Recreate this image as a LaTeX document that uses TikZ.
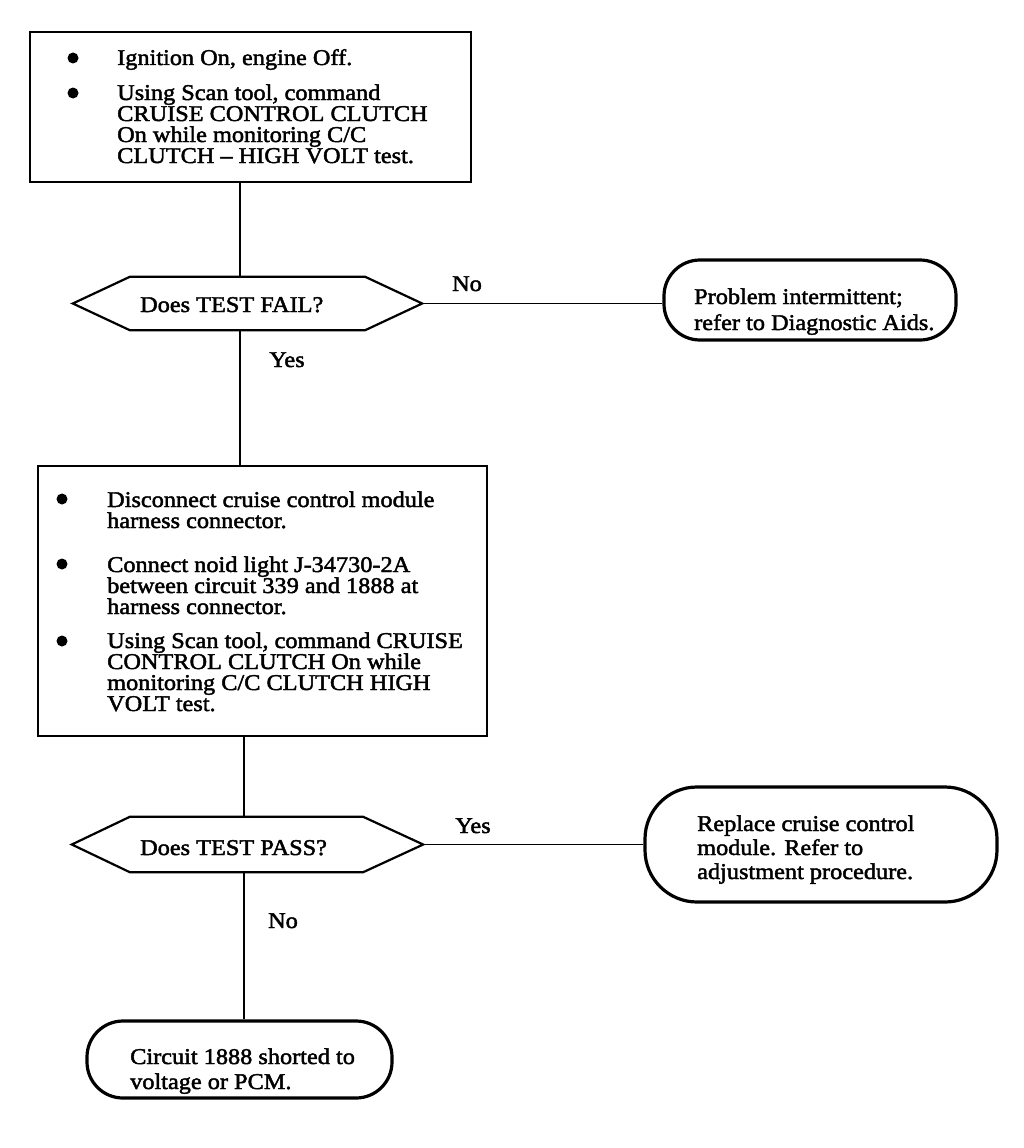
\documentclass[tikz,border=0pt]{standalone}
\usepackage{fontspec}
\setmainfont{Liberation Serif}[FakeBold=2, FakeStretch=1.08]
\newcommand{\para}[1]{\parbox[t]{420pt}{\raggedright\baselineskip=21pt #1\par}}
\begin{document}
\begin{tikzpicture}[x=1pt,y=-1pt,
  font=\fontsize{22.5}{21}\selectfont,
  boxshape/.style={draw, line width=2.2pt, inner sep=0pt},
  hexbase/.style={draw=none, inner sep=0pt},
  hexline/.style={line width=2.2pt, line join=miter},
  term/.style={draw, line width=3.2pt, inner sep=0pt},
  txt/.style={anchor=base west, inner sep=0pt},
  lbl/.style={anchor=base, inner sep=0pt},
  bul/.style={circle, fill, inner sep=0pt, minimum size=11pt},
  conn/.style={line width=1.8pt}]
\useasboundingbox (0,0) rectangle (1024,1148);

% ---- shapes ----
\node[boxshape, minimum width=441pt, minimum height=150pt] (b1) at (250.5,107) {};
\node[hexbase, minimum width=349pt, minimum height=53pt] (d1) at (247.5,303.5) {};
\node[term, rounded corners=36pt, minimum width=292pt, minimum height=80pt] (t1) at (810,300) {};
\node[boxshape, minimum width=449pt, minimum height=270pt] (b2) at (262.5,601) {};
\node[hexbase, minimum width=351pt, minimum height=55pt] (d2) at (247.5,844.5) {};
\node[term, rounded corners=52pt, minimum width=352pt, minimum height=115pt] (t2) at (821,844.5) {};
\node[term, rounded corners=36pt, minimum width=305pt, minimum height=77pt] (t3) at (239.5,1059.5) {};

\draw[hexline] (d1.west) -- ([xshift=57pt]d1.north west) -- ([xshift=-57pt]d1.north east) -- (d1.east) -- ([xshift=-57pt]d1.south east) -- ([xshift=57pt]d1.south west) -- cycle;
\draw[hexline] (d2.west) -- ([xshift=58pt]d2.north west) -- ([xshift=-60pt]d2.north east) -- (d2.east) -- ([xshift=-60pt]d2.south east) -- ([xshift=58pt]d2.south west) -- cycle;

% ---- connectors ----
\coordinate (c1) at (240,0);
\coordinate (c2) at (244,0);
\draw[conn] (b1.south -| c1) -- (d1.north -| c1);
\draw[conn] (d1.south -| c1) -- (b2.north -| c1);
\draw[conn] (d1.east) -- (d1.east -| t1.west);
\draw[conn] (b2.south -| c2) -- (d2.north -| c2);
\draw[conn] (d2.south -| c2) -- (t3.north -| c2);
\draw[conn] (d2.east) -- (d2.east -| t2.west);

% ---- labels ----
\node[lbl] (lno1) at (467,291) {No};
\node[lbl] (lyes1) at (287,367) {Yes};
\node[lbl] (lyes2) at (473,833) {Yes};
\node[lbl] (lno2) at (283,928) {No};

% ---- box 1 text ----
\node[bul] (bu11) at (73,58) {};
\node[bul] (bu12) at (73,93) {};
\node[txt] (x11) at (117,65) {Ignition On, engine Off.};
\node[txt] (x12) at (117,100) {\para{Using Scan tool, command\\CRUISE CONTROL CLUTCH\\On while monitoring C/C\\CLUTCH -- HIGH VOLT test.}};

% ---- decision texts ----
\node[txt] (dt1) at (140,312) {Does TEST FAIL?};
\node[txt] (dt2) at (140,855) {Does TEST PASS?};

% ---- terminal texts ----
\node[txt] (tt1) at (694,304) {\parbox[t]{300pt}{\raggedright\baselineskip=26pt Problem intermittent;\\refer to Diagnostic Aids.\par}};
\node[txt] (tt2) at (697,831) {\parbox[t]{300pt}{\raggedright\baselineskip=24pt Replace cruise control\\module. Refer to\\adjustment procedure.\par}};
\node[txt] (tt3) at (130,1064) {\parbox[t]{300pt}{\raggedright\baselineskip=25pt Circuit 1888 shorted to\\voltage or PCM.\par}};

% ---- box 2 text ----
\node[bul] (bu21) at (62,499) {};
\node[bul] (bu22) at (62,564) {};
\node[bul] (bu23) at (62,641) {};
\node[txt] (x21) at (107,507) {\para{Disconnect cruise control module\\harness connector.}};
\node[txt] (x22) at (107,572) {\para{Connect noid light J-34730-2A\\between circuit 339 and 1888 at\\harness connector.}};
\node[txt] (x23) at (107,648) {\para{Using Scan tool, command CRUISE\\CONTROL CLUTCH On while\\monitoring C/C CLUTCH HIGH\\VOLT test.}};
\end{tikzpicture}
\end{document}
